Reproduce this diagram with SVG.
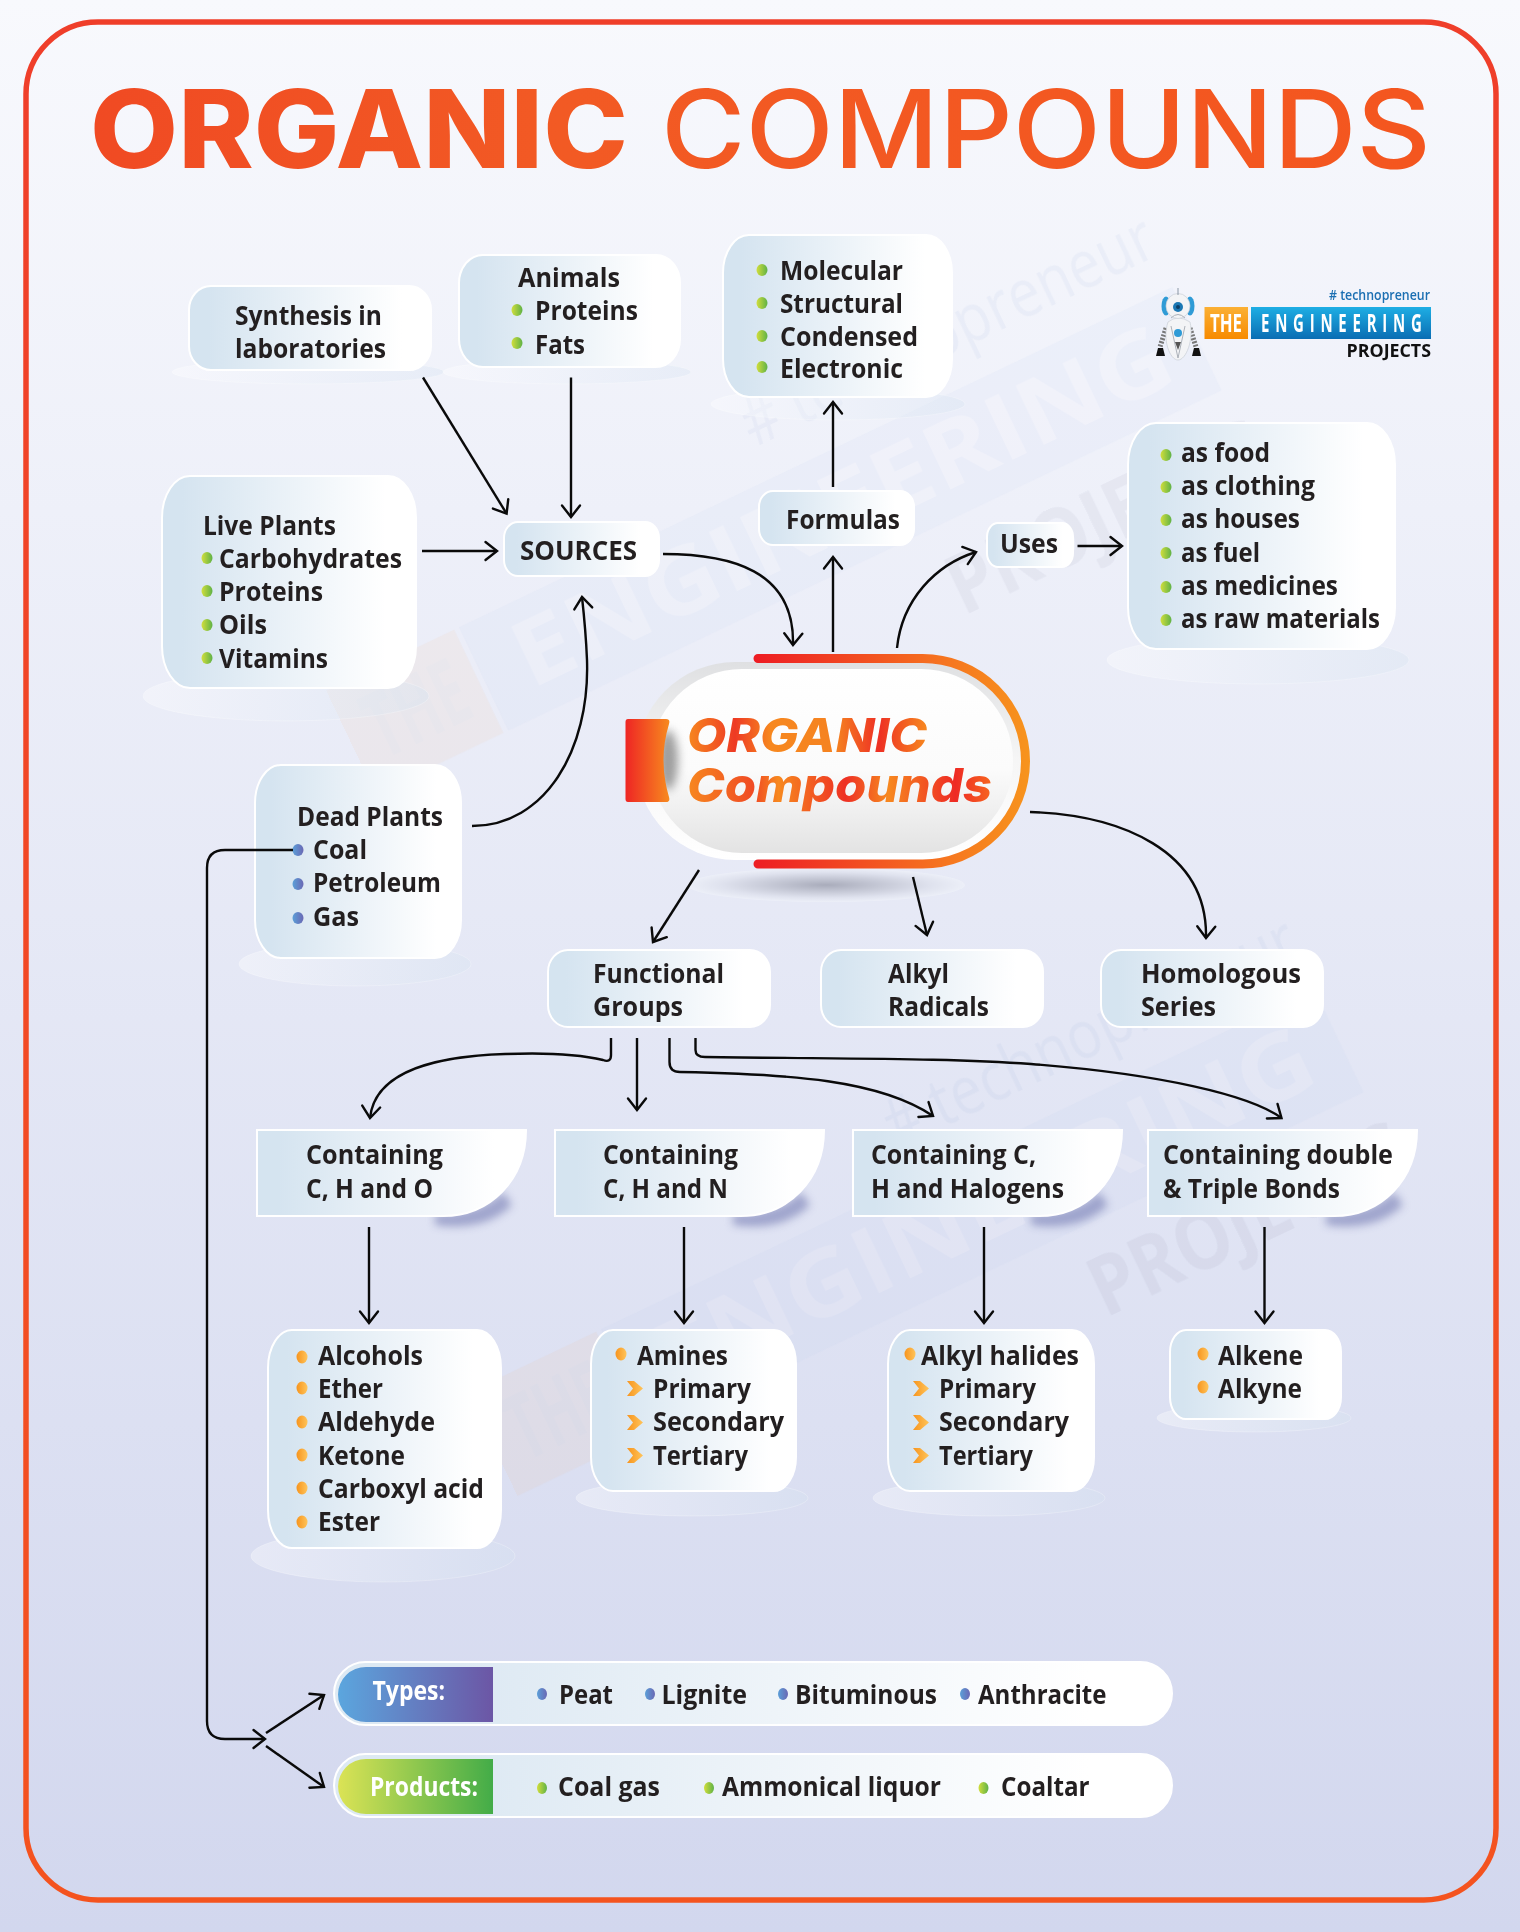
<svg xmlns="http://www.w3.org/2000/svg" width="1520" height="1932" viewBox="0 0 1520 1932">
<defs>
<linearGradient id="bg" x1="0" y1="0" x2="0" y2="1"><stop offset="0" stop-color="#f8f9fd"/><stop offset="1" stop-color="#d2d7ee"/></linearGradient>
<linearGradient id="frame" x1="0" y1="0" x2="0" y2="1"><stop offset="0" stop-color="#ef3e2a"/><stop offset="1" stop-color="#f4531f"/></linearGradient>
<linearGradient id="box" x1="0" y1="0" x2="1" y2="0"><stop offset="0.08" stop-color="#d5e4f0"/><stop offset="0.88" stop-color="#ffffff"/></linearGradient>
<linearGradient id="barbox" x1="0" y1="0" x2="1" y2="0"><stop offset="0.15" stop-color="#dde9f3"/><stop offset="0.9" stop-color="#ffffff"/></linearGradient>
<linearGradient id="plate" x1="0" y1="0" x2="1" y2="0"><stop offset="0" stop-color="#ffffff" stop-opacity=".35"/><stop offset="1" stop-color="#d5e2f0" stop-opacity=".35"/></linearGradient>
<linearGradient id="titleG" gradientUnits="userSpaceOnUse" x1="90" y1="0" x2="1431" y2="0"><stop offset="0" stop-color="#f04a23"/><stop offset=".35" stop-color="#f25a24"/><stop offset="1" stop-color="#f4561f"/></linearGradient>
<linearGradient id="ring" x1="0" y1="0" x2="0" y2="1"><stop offset="0" stop-color="#dfe0e2"/><stop offset=".5" stop-color="#f6f6f6"/><stop offset="1" stop-color="#ffffff"/></linearGradient>
<linearGradient id="pill" x1="0" y1="0" x2="0" y2="1"><stop offset="0" stop-color="#ffffff"/><stop offset=".55" stop-color="#fbfbfb"/><stop offset="1" stop-color="#e3e3e3"/></linearGradient>
<linearGradient id="ro" gradientUnits="userSpaceOnUse" x1="754" y1="0" x2="1030" y2="0"><stop offset="0" stop-color="#ed1c24"/><stop offset=".7" stop-color="#f6761f"/><stop offset="1" stop-color="#f7941d"/></linearGradient>
<linearGradient id="tab" x1="0" y1="0" x2="1" y2="0"><stop offset="0" stop-color="#ee2524"/><stop offset="1" stop-color="#f78a1f"/></linearGradient>
<linearGradient id="word1" gradientUnits="userSpaceOnUse" x1="687" y1="0" x2="927" y2="0"><stop offset="0" stop-color="#f7881f"/><stop offset=".2" stop-color="#ee3a24"/><stop offset=".35" stop-color="#f7881f"/><stop offset=".62" stop-color="#f58220"/><stop offset=".8" stop-color="#ee3024"/><stop offset="1" stop-color="#f7881f"/></linearGradient>
<linearGradient id="word2" gradientUnits="userSpaceOnUse" x1="687" y1="0" x2="992" y2="0"><stop offset="0" stop-color="#f7881f"/><stop offset=".22" stop-color="#f04a24"/><stop offset=".3" stop-color="#f7881f"/><stop offset=".52" stop-color="#ee3024"/><stop offset=".66" stop-color="#f7881f"/><stop offset=".88" stop-color="#ee2a24"/><stop offset="1" stop-color="#f7661f"/></linearGradient>
<radialGradient id="under"><stop offset="0" stop-color="#a9acbb"/><stop offset=".75" stop-color="#dfe2ee"/><stop offset="1" stop-color="#eceff8"/></radialGradient>
<linearGradient id="green" x1="0" y1="0" x2="1" y2="0"><stop offset="0" stop-color="#d2de3c"/><stop offset="1" stop-color="#5fb246"/></linearGradient>
<linearGradient id="orange" x1="0" y1="0" x2="1" y2="0"><stop offset="0" stop-color="#f7941d"/><stop offset="1" stop-color="#ffc45a"/></linearGradient>
<linearGradient id="blue" x1="0" y1="0" x2="1" y2="0"><stop offset="0" stop-color="#5b9fd8"/><stop offset="1" stop-color="#6a68b4"/></linearGradient>
<linearGradient id="typesG" x1="0" y1="0" x2="1" y2="0"><stop offset="0" stop-color="#5ba6de"/><stop offset="1" stop-color="#6c56a5"/></linearGradient>
<linearGradient id="prodG" x1="0" y1="0" x2="1" y2="0"><stop offset="0" stop-color="#dbe355"/><stop offset="1" stop-color="#43ac48"/></linearGradient>
<linearGradient id="logoB" x1="0" y1="0" x2="0" y2="1"><stop offset="0" stop-color="#1eaee4"/><stop offset="1" stop-color="#0a6db3"/></linearGradient>
<linearGradient id="logoO" x1="0" y1="0" x2="0" y2="1"><stop offset="0" stop-color="#fbb034"/><stop offset="1" stop-color="#f78a00"/></linearGradient>
<filter id="blur5" x="-30%" y="-60%" width="160%" height="220%"><feGaussianBlur stdDeviation="4"/></filter>
<filter id="blur4" x="-100%" y="-100%" width="300%" height="300%"><feGaussianBlur stdDeviation="5"/></filter>
<marker id="arr" markerUnits="userSpaceOnUse" markerWidth="30" markerHeight="30" refX="15" refY="15" orient="auto" overflow="visible"><path d="M3.5,6 L15,15 L3.5,24" fill="none" stroke="#0a0a0a" stroke-width="2.4" stroke-linecap="round" stroke-linejoin="miter"/></marker>
<path id="chev" d="M0,0 H7 L16,7.5 L7,15 H0 L6,7.5 Z" fill="url(#orange)"/>
<path id="crescent" d="M435,1214 C465,1214 490,1206 503,1192 L512,1205 Q485,1232 435,1225 Z" fill="#5f66a6" opacity=".5" filter="url(#blur5)"/>
<g id="wmark">
<rect x="0" y="-40" width="130" height="105" fill="#f7a65a"/>
<rect x="135" y="-40" width="725" height="105" fill="#9fbbe8"/>
<text x="20" y="40" style="font-size:84px;fill:#c9905f" textLength="95" lengthAdjust="spacingAndGlyphs">THE</text>
<text x="170" y="40" style="font-size:84px;fill:#ffffff" textLength="660" lengthAdjust="spacingAndGlyphs">ENGINEERING</text>
<text x="557" y="150" style="font-size:76px;fill:#6c6f8c" textLength="313" lengthAdjust="spacingAndGlyphs">PROJECTS</text>
<text x="450" y="-72" style="font-size:62px;font-weight:400;fill:#7f9ccc" textLength="413" lengthAdjust="spacingAndGlyphs"># technopreneur</text>
</g>
</defs>
<style>
text{font-family:"Open Sans","Noto Sans",sans-serif;font-weight:700;font-size:27px;fill:#231f20}
.b{fill:url(#box);stroke:#fff;stroke-width:2}
.p{fill:url(#plate);stroke:#fff;stroke-opacity:.25;stroke-width:1}
.g{fill:url(#green)}.o{fill:url(#orange)}.u{fill:url(#blue)}
.c{fill:none;stroke:#0a0a0a;stroke-width:2.4;stroke-linecap:butt;marker-end:url(#arr)}
</style>

<rect width="1520" height="1932" fill="url(#bg)"/>

<g id="watermarks" opacity=".07">
<use href="#wmark" transform="translate(345,730) rotate(-25.5) scale(1.09)"/>
<use href="#wmark" transform="translate(487,1432) rotate(-25.5) scale(1.09)"/>
</g>

<rect id="border" x="26" y="22" width="1470" height="1878" rx="72" ry="72" fill="none" stroke="url(#frame)" stroke-width="5.5"/>

<g id="title">
<text x="90" y="168" style="font-family:Inter,'Open Sans',sans-serif;font-size:108px;font-weight:800;fill:url(#titleG)" textLength="538" lengthAdjust="spacingAndGlyphs">ORGANIC</text>
<text x="661" y="168" style="font-family:Inter,'Open Sans',sans-serif;font-size:108px;font-weight:500;fill:url(#titleG)" textLength="770" lengthAdjust="spacingAndGlyphs">COMPOUNDS</text>
</g>

<g id="logo">
<text x="1329" y="300" style="font-size:13.5px;font-weight:600;fill:#1b6fb2" textLength="101" lengthAdjust="spacingAndGlyphs"># technopreneur</text>
<rect x="1204.5" y="307" width="43.5" height="32" fill="url(#logoO)"/>
<rect x="1251" y="307" width="180" height="32" fill="url(#logoB)"/>
<text x="1210" y="332" style="font-size:25px;fill:#fff" textLength="32" lengthAdjust="spacingAndGlyphs">THE</text>
<text transform="translate(1261,332) scale(.6,1)" x="0" y="0" style="font-size:25px;fill:#fff" textLength="268" lengthAdjust="spacing">ENGINEERING</text>
<text x="1346.5" y="357" style="font-size:18px;fill:#111" textLength="84.5" lengthAdjust="spacingAndGlyphs">PROJECTS</text>
<g id="robot">
<path d="M1166,328 L1160,347 M1190,328 L1196,347" fill="none" stroke="#777" stroke-width="5" stroke-dasharray="2 1.5"/>
<path d="M1156,356 L1158,348 H1163 L1165,356 Z M1192,356 L1194,348 H1199 L1201,356 Z" fill="#111"/>
<path d="M1168,322 Q1178,314 1190,322 C1194,340 1186,360 1178,360 C1170,360 1162,340 1168,322 Z" fill="#f3f4f6" stroke="#c9ced6" stroke-width=".7"/>
<ellipse cx="1166" cy="306" rx="4.5" ry="9.5" fill="#2f9bd6"/><ellipse cx="1190" cy="306" rx="4.5" ry="9.5" fill="#2f9bd6"/>
<ellipse cx="1178" cy="306" rx="12" ry="12.5" fill="#f3f4f6" stroke="#c9ced6" stroke-width=".7"/>
<circle cx="1178" cy="307" r="5" fill="#1c78b4"/><circle cx="1178" cy="307" r="2" fill="#0d3f66"/>
<path d="M1171,318 Q1178,311 1185,318" fill="none" stroke="#aab0b8" stroke-width="1"/>
<circle cx="1178" cy="333" r="4" fill="#2f9bd6"/>
<path d="M1171,326 L1178,358 L1185,326" fill="none" stroke="#9aa1aa" stroke-width=".8"/>
<path d="M1175,342 H1181 L1178,350 Z" fill="#555"/>
<path d="M1178,288 V295" stroke="#8a97a5" stroke-width="1"/>
</g>
</g>

<g id="plates">
<ellipse class="p" cx="308" cy="372" rx="136" ry="12"/>
<ellipse class="p" cx="567" cy="372" rx="124" ry="12"/>
<ellipse class="p" cx="838" cy="404" rx="127" ry="16"/>
<ellipse class="p" cx="286" cy="696" rx="143" ry="25"/>
<ellipse class="p" cx="1258" cy="660" rx="151" ry="24"/>
<ellipse class="p" cx="355" cy="964" rx="116" ry="22"/>
<ellipse class="p" cx="383" cy="1556" rx="132" ry="26"/>
<ellipse class="p" cx="692" cy="1498" rx="116" ry="18"/>
<ellipse class="p" cx="989" cy="1498" rx="116" ry="18"/>
<ellipse class="p" cx="1254" cy="1418" rx="97" ry="14"/>
<ellipse cx="826" cy="885" rx="139" ry="17" fill="url(#under)"/>
</g>

<g id="synthesis"><rect class="b" x="189" y="286" width="242" height="84" rx="22" ry="24"/>
<text x="235" y="325" textLength="147" lengthAdjust="spacingAndGlyphs">Synthesis in</text>
<text x="235" y="358" textLength="151" lengthAdjust="spacingAndGlyphs">laboratories</text></g>

<g id="animals"><rect class="b" x="459" y="255" width="221" height="112" rx="24" ry="28"/>
<text x="518" y="287" textLength="102" lengthAdjust="spacingAndGlyphs">Animals</text>
<ellipse class="g" cx="517" cy="310" rx="5.5" ry="6"/><text x="535" y="320" textLength="103" lengthAdjust="spacingAndGlyphs">Proteins</text>
<ellipse class="g" cx="517" cy="343" rx="5.5" ry="6"/><text x="535" y="354" textLength="50" lengthAdjust="spacingAndGlyphs">Fats</text></g>

<g id="formula-types"><rect class="b" x="723" y="235" width="229" height="162" rx="26" ry="38"/>
<ellipse class="g" cx="762" cy="270" rx="5.5" ry="6"/><text x="780" y="280" textLength="123" lengthAdjust="spacingAndGlyphs">Molecular</text>
<ellipse class="g" cx="762" cy="303" rx="5.5" ry="6"/><text x="780" y="313" textLength="123" lengthAdjust="spacingAndGlyphs">Structural</text>
<ellipse class="g" cx="762" cy="336" rx="5.5" ry="6"/><text x="780" y="346" textLength="138" lengthAdjust="spacingAndGlyphs">Condensed</text>
<ellipse class="g" cx="762" cy="367" rx="5.5" ry="6"/><text x="780" y="378" textLength="123" lengthAdjust="spacingAndGlyphs">Electronic</text></g>

<g id="live-plants"><rect class="b" x="162" y="476" width="254" height="212" rx="28" ry="42"/>
<text x="203" y="535" textLength="133" lengthAdjust="spacingAndGlyphs">Live Plants</text>
<ellipse class="g" cx="207" cy="558" rx="5.5" ry="6"/><text x="219" y="568" textLength="183" lengthAdjust="spacingAndGlyphs">Carbohydrates</text>
<ellipse class="g" cx="207" cy="591" rx="5.5" ry="6"/><text x="219" y="601" textLength="104" lengthAdjust="spacingAndGlyphs">Proteins</text>
<ellipse class="g" cx="207" cy="625" rx="5.5" ry="6"/><text x="219" y="634" textLength="48" lengthAdjust="spacingAndGlyphs">Oils</text>
<ellipse class="g" cx="207" cy="658" rx="5.5" ry="6"/><text x="219" y="668" textLength="109" lengthAdjust="spacingAndGlyphs">Vitamins</text></g>

<g id="sources"><rect class="b" x="504" y="522" width="155" height="54" rx="14" ry="16"/>
<text x="520" y="560" textLength="117" lengthAdjust="spacingAndGlyphs">SOURCES</text></g>

<g id="formulas"><rect class="b" x="759" y="491" width="155" height="54" rx="14" ry="16"/>
<text x="786" y="529" textLength="114" lengthAdjust="spacingAndGlyphs">Formulas</text></g>

<g id="uses"><rect class="b" x="987" y="523" width="86" height="44" rx="11" ry="14"/>
<text x="1000" y="553" textLength="58" lengthAdjust="spacingAndGlyphs">Uses</text></g>

<g id="uses-list"><rect class="b" x="1128" y="423" width="267" height="226" rx="28" ry="42"/>
<ellipse class="g" cx="1166" cy="455" rx="5.5" ry="6"/><text x="1181" y="462" textLength="89" lengthAdjust="spacingAndGlyphs">as food</text>
<ellipse class="g" cx="1166" cy="487" rx="5.5" ry="6"/><text x="1181" y="495" textLength="134" lengthAdjust="spacingAndGlyphs">as clothing</text>
<ellipse class="g" cx="1166" cy="520" rx="5.5" ry="6"/><text x="1181" y="528" textLength="119" lengthAdjust="spacingAndGlyphs">as houses</text>
<ellipse class="g" cx="1166" cy="553" rx="5.5" ry="6"/><text x="1181" y="562" textLength="79" lengthAdjust="spacingAndGlyphs">as fuel</text>
<ellipse class="g" cx="1166" cy="587" rx="5.5" ry="6"/><text x="1181" y="595" textLength="157" lengthAdjust="spacingAndGlyphs">as medicines</text>
<ellipse class="g" cx="1166" cy="620" rx="5.5" ry="6"/><text x="1181" y="628" textLength="199" lengthAdjust="spacingAndGlyphs">as raw materials</text></g>

<g id="center">
<rect x="636" y="662" width="390" height="198" rx="99" ry="99" fill="url(#ring)"/>
<rect x="650" y="669" width="363" height="184" rx="92" ry="92" fill="url(#pill)"/>
<ellipse cx="668" cy="760" rx="10" ry="30" fill="#777" opacity=".7" filter="url(#blur4)"/>
<path d="M758,658.5 H922.75 A102.75,102.75 0 0 1 922.75,864 H758" fill="none" stroke="url(#ro)" stroke-width="9" stroke-linecap="round"/>
<path d="M628,719 H666 Q670.5,719 669,724 Q658,760 669,797 Q670.5,802 666,802 H628 Q625.5,802 625.5,799 V722 Q625.5,719 628,719 Z" fill="url(#tab)"/>
<text x="687" y="752" style="font-family:Inter,'Open Sans',sans-serif;font-style:italic;font-size:47px;font-weight:800;fill:url(#word1)" textLength="240" lengthAdjust="spacingAndGlyphs">ORGANIC</text>
<text x="687" y="802" style="font-family:Inter,'Open Sans',sans-serif;font-style:italic;font-size:47px;font-weight:800;fill:url(#word2)" textLength="305" lengthAdjust="spacingAndGlyphs">Compounds</text>
</g>

<g id="dead-plants"><rect class="b" x="255" y="765" width="206" height="193" rx="26" ry="38"/>
<text x="297" y="826" textLength="146" lengthAdjust="spacingAndGlyphs">Dead Plants</text>
<ellipse class="u" cx="298" cy="850" rx="5.5" ry="6"/><text x="313" y="859" textLength="54" lengthAdjust="spacingAndGlyphs">Coal</text>
<ellipse class="u" cx="298" cy="884" rx="5.5" ry="6"/><text x="313" y="892" textLength="128" lengthAdjust="spacingAndGlyphs">Petroleum</text>
<ellipse class="u" cx="298" cy="918" rx="5.5" ry="6"/><text x="313" y="926" textLength="46" lengthAdjust="spacingAndGlyphs">Gas</text></g>

<g id="functional"><rect class="b" x="548" y="950" width="222" height="77" rx="20" ry="22"/>
<text x="593" y="983" textLength="131" lengthAdjust="spacingAndGlyphs">Functional</text>
<text x="593" y="1016" textLength="90" lengthAdjust="spacingAndGlyphs">Groups</text></g>
<g id="alkyl"><rect class="b" x="821" y="950" width="222" height="77" rx="20" ry="22"/>
<text x="888" y="983" textLength="61" lengthAdjust="spacingAndGlyphs">Alkyl</text>
<text x="888" y="1016" textLength="101" lengthAdjust="spacingAndGlyphs">Radicals</text></g>
<g id="homologous"><rect class="b" x="1101" y="950" width="222" height="77" rx="20" ry="22"/>
<text x="1141" y="983" textLength="160" lengthAdjust="spacingAndGlyphs">Homologous</text>
<text x="1141" y="1016" textLength="75" lengthAdjust="spacingAndGlyphs">Series</text></g>

<g id="chno"><use href="#crescent"/>
<path class="b" d="M257,1130 H526 C526,1180 490,1216 443,1216 H257 Z"/>
<text x="306" y="1164" textLength="137" lengthAdjust="spacingAndGlyphs">Containing</text>
<text x="306" y="1198" textLength="127" lengthAdjust="spacingAndGlyphs">C, H and O</text></g>
<g id="chn"><use href="#crescent" x="298"/>
<path class="b" d="M555,1130 H824 C824,1180 788,1216 741,1216 H555 Z"/>
<text x="603" y="1164" textLength="135" lengthAdjust="spacingAndGlyphs">Containing</text>
<text x="603" y="1198" textLength="125" lengthAdjust="spacingAndGlyphs">C, H and N</text></g>
<g id="chhal"><use href="#crescent" x="596"/>
<path class="b" d="M853,1130 H1122 C1122,1180 1086,1216 1039,1216 H853 Z"/>
<text x="871" y="1164" textLength="165" lengthAdjust="spacingAndGlyphs">Containing C,</text>
<text x="871" y="1198" textLength="193" lengthAdjust="spacingAndGlyphs">H and Halogens</text></g>
<g id="double"><use href="#crescent" x="891"/>
<path class="b" d="M1148,1130 H1417 C1417,1180 1381,1216 1334,1216 H1148 Z"/>
<text x="1163" y="1164" textLength="230" lengthAdjust="spacingAndGlyphs">Containing double</text>
<text x="1163" y="1198" textLength="177" lengthAdjust="spacingAndGlyphs">&amp; Triple Bonds</text></g>

<g id="list-o"><rect class="b" x="268" y="1330" width="233" height="218" rx="24" ry="38"/>
<ellipse class="o" cx="302" cy="1357" rx="5.5" ry="6.5"/><text x="318" y="1365" textLength="105" lengthAdjust="spacingAndGlyphs">Alcohols</text>
<ellipse class="o" cx="302" cy="1388" rx="5.5" ry="6.5"/><text x="318" y="1398" textLength="65" lengthAdjust="spacingAndGlyphs">Ether</text>
<ellipse class="o" cx="302" cy="1422" rx="5.5" ry="6.5"/><text x="318" y="1431" textLength="117" lengthAdjust="spacingAndGlyphs">Aldehyde</text>
<ellipse class="o" cx="302" cy="1455" rx="5.5" ry="6.5"/><text x="318" y="1465" textLength="87" lengthAdjust="spacingAndGlyphs">Ketone</text>
<ellipse class="o" cx="302" cy="1488" rx="5.5" ry="6.5"/><text x="318" y="1498" textLength="166" lengthAdjust="spacingAndGlyphs">Carboxyl acid</text>
<ellipse class="o" cx="302" cy="1522" rx="5.5" ry="6.5"/><text x="318" y="1531" textLength="62" lengthAdjust="spacingAndGlyphs">Ester</text></g>

<g id="list-n"><rect class="b" x="591" y="1330" width="205" height="161" rx="22" ry="34"/>
<ellipse class="o" cx="621" cy="1354" rx="5.5" ry="6.5"/><text x="637" y="1365" textLength="91" lengthAdjust="spacingAndGlyphs">Amines</text>
<use href="#chev" x="627" y="1381"/><text x="653" y="1398" textLength="98" lengthAdjust="spacingAndGlyphs">Primary</text>
<use href="#chev" x="627" y="1415"/><text x="653" y="1431" textLength="131" lengthAdjust="spacingAndGlyphs">Secondary</text>
<use href="#chev" x="627" y="1448"/><text x="653" y="1465" textLength="95" lengthAdjust="spacingAndGlyphs">Tertiary</text></g>

<g id="list-hal"><rect class="b" x="888" y="1330" width="206" height="161" rx="22" ry="34"/>
<ellipse class="o" cx="910" cy="1354" rx="5.5" ry="6.5"/><text x="921" y="1365" textLength="158" lengthAdjust="spacingAndGlyphs">Alkyl halides</text>
<use href="#chev" x="913" y="1381"/><text x="939" y="1398" textLength="97" lengthAdjust="spacingAndGlyphs">Primary</text>
<use href="#chev" x="913" y="1415"/><text x="939" y="1431" textLength="130" lengthAdjust="spacingAndGlyphs">Secondary</text>
<use href="#chev" x="913" y="1448"/><text x="939" y="1465" textLength="94" lengthAdjust="spacingAndGlyphs">Tertiary</text></g>

<g id="list-bonds"><rect class="b" x="1170" y="1330" width="171" height="89" rx="16" ry="22"/>
<ellipse class="o" cx="1203" cy="1354" rx="5.5" ry="6.5"/><text x="1218" y="1365" textLength="85" lengthAdjust="spacingAndGlyphs">Alkene</text>
<ellipse class="o" cx="1203" cy="1387" rx="5.5" ry="6.5"/><text x="1218" y="1398" textLength="84" lengthAdjust="spacingAndGlyphs">Alkyne</text></g>

<g id="types"><rect x="334" y="1662" width="838" height="63" rx="31.5" fill="url(#barbox)" stroke="#fff" stroke-width="2"/>
<path d="M493,1667 H366 A28,27.5 0 0 0 366,1722 H493 Z" fill="url(#typesG)"/>
<text x="372.5" y="1700" style="fill:#fff" textLength="72.5" lengthAdjust="spacingAndGlyphs">Types:</text>
<ellipse class="u" cx="542" cy="1694" rx="5" ry="6"/><text x="559" y="1704" textLength="54" lengthAdjust="spacingAndGlyphs">Peat</text>
<ellipse class="u" cx="650" cy="1694" rx="5" ry="6"/><text x="661.5" y="1704" textLength="85.5" lengthAdjust="spacingAndGlyphs">Lignite</text>
<ellipse class="u" cx="783" cy="1694" rx="5" ry="6"/><text x="795" y="1704" textLength="142" lengthAdjust="spacingAndGlyphs">Bituminous</text>
<ellipse class="u" cx="965" cy="1694" rx="5" ry="6"/><text x="978" y="1704" textLength="128.5" lengthAdjust="spacingAndGlyphs">Anthracite</text></g>

<g id="products"><rect x="334" y="1754" width="838" height="63" rx="31.5" fill="url(#barbox)" stroke="#fff" stroke-width="2"/>
<path d="M493,1759 H366 A28,27.5 0 0 0 366,1814 H493 Z" fill="url(#prodG)"/>
<text x="370" y="1796" style="fill:#fff" textLength="108" lengthAdjust="spacingAndGlyphs">Products:</text>
<ellipse class="g" cx="542" cy="1788" rx="5" ry="6"/><text x="558" y="1796" textLength="102" lengthAdjust="spacingAndGlyphs">Coal gas</text>
<ellipse class="g" cx="709" cy="1788" rx="5" ry="6"/><text x="722" y="1796" textLength="219" lengthAdjust="spacingAndGlyphs">Ammonical liquor</text>
<ellipse class="g" cx="983.5" cy="1788" rx="5" ry="6"/><text x="1001" y="1796" textLength="88.5" lengthAdjust="spacingAndGlyphs">Coaltar</text></g>

<g id="connectors">
<path class="c" d="M423,377.5 L506.6,513.6"/>
<path class="c" d="M571,377.5 V517"/>
<path class="c" d="M422,551 H497"/>
<path class="c" d="M472,826 C545,826 590,750 587,660 C586,635 584,615 582,597"/>
<path class="c" d="M663,554 C730,554 795,570 793,645"/>
<path class="c" d="M833,652 V557"/>
<path class="c" d="M833,487 V402"/>
<path class="c" d="M897,648 C902,600 935,565 976,552"/>
<path class="c" d="M1077.5,546 H1122"/>
<path class="c" d="M699,870 L653,942"/>
<path class="c" d="M913,877 L927,935"/>
<path class="c" d="M1030,812 C1120,815 1208,850 1206,938"/>
<path class="c" d="M611,1038 V1055 Q611,1063 603,1060 C570,1052 530,1053 505,1054 C440,1056 375,1070 370,1118"/>
<path class="c" d="M637,1038 V1110"/>
<path class="c" d="M669.5,1038 V1062 Q669.5,1072 680,1072 C790,1074 880,1080 933,1116"/>
<path class="c" d="M695.5,1038 V1050 Q695.5,1057 705,1057 C850,1059 950,1058 1031,1064 C1160,1074 1250,1095 1281.5,1118"/>
<path class="c" d="M369,1227 V1323"/>
<path class="c" d="M684,1227 V1323"/>
<path class="c" d="M984,1227 V1323"/>
<path class="c" d="M1264.5,1227 V1323"/>
<path class="c" d="M293,850 H225 Q207,850 207,868 V1721 Q207,1739 225,1739 H265"/>
<path class="c" d="M266,1733 L324,1695"/>
<path class="c" d="M266,1746 L324,1787"/>
</g>
</svg>
